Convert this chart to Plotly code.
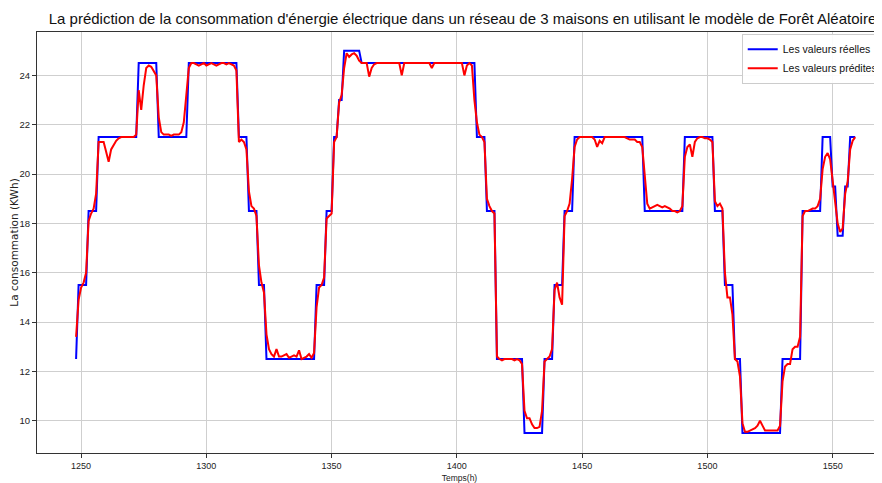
import plotly.graph_objects as go

hours = list(range(1248, 1560))

actual = [
    12.5, 15.5,
    15.5, 15.5, 15.5, 18.5, 18.5, 18.5, 18.5, 21.5, 21.5, 21.5,
    21.5, 21.5, 21.5, 21.5, 21.5, 21.5, 21.5, 21.5, 21.5, 21.5,
    21.5, 21.5, 21.5, 24.5, 24.5, 24.5, 24.5, 24.5, 24.5, 24.5,
    24.5, 21.5, 21.5, 21.5, 21.5, 21.5, 21.5, 21.5, 21.5, 21.5,
    21.5, 21.5, 21.5, 24.5, 24.5, 24.5, 24.5, 24.5, 24.5, 24.5,
    24.5, 24.5, 24.5, 24.5, 24.5, 24.5, 24.5, 24.5, 24.5, 24.5,
    24.5, 24.5, 24.5, 21.5, 21.5, 21.5, 21.5, 18.5, 18.5, 18.5,
    18.5, 15.5, 15.5, 15.5, 12.5, 12.5, 12.5, 12.5, 12.5, 12.5,
    12.5, 12.5, 12.5, 12.5, 12.5, 12.5, 12.5, 12.5, 12.5, 12.5,
    12.5, 12.5, 12.5, 12.5, 15.5, 15.5, 15.5, 15.5, 18.5, 18.5,
    18.5, 21.5, 21.5, 23.0, 23.0, 25.0, 25.0, 25.0, 25.0, 25.0,
    25.0, 25.0, 24.5, 24.5, 24.5, 24.5, 24.5, 24.5, 24.5, 24.5,
    24.5, 24.5, 24.5, 24.5, 24.5, 24.5, 24.5, 24.5, 24.5, 24.5,
    24.5, 24.5, 24.5, 24.5, 24.5, 24.5, 24.5, 24.5, 24.5, 24.5,
    24.5, 24.5, 24.5, 24.5, 24.5, 24.5, 24.5, 24.5, 24.5, 24.5,
    24.5, 24.5, 24.5, 24.5, 24.5, 24.5, 24.5, 24.5, 21.5, 21.5,
    21.5, 21.5, 18.5, 18.5, 18.5, 18.5, 12.5, 12.5, 12.5, 12.5,
    12.5, 12.5, 12.5, 12.5, 12.5, 12.5, 12.5, 9.5, 9.5, 9.5,
    9.5, 9.5, 9.5, 9.5, 9.5, 12.5, 12.5, 12.5, 12.5, 15.5,
    15.5, 15.5, 15.5, 18.5, 18.5, 18.5, 18.5, 21.5, 21.5, 21.5,
    21.5, 21.5, 21.5, 21.5, 21.5, 21.5, 21.5, 21.5, 21.5, 21.5,
    21.5, 21.5, 21.5, 21.5, 21.5, 21.5, 21.5, 21.5, 21.5, 21.5,
    21.5, 21.5, 21.5, 21.5, 21.5, 18.5, 18.5, 18.5, 18.5, 18.5,
    18.5, 18.5, 18.5, 18.5, 18.5, 18.5, 18.5, 18.5, 18.5, 18.5,
    18.5, 21.5, 21.5, 21.5, 21.5, 21.5, 21.5, 21.5, 21.5, 21.5,
    21.5, 21.5, 21.5, 18.5, 18.5, 18.5, 18.5, 15.5, 15.5, 15.5,
    15.5, 12.5, 12.5, 12.5, 9.5, 9.5, 9.5, 9.5, 9.5, 9.5,
    9.5, 9.5, 9.5, 9.5, 9.5, 9.5, 9.5, 9.5, 9.5, 9.5,
    12.5, 12.5, 12.5, 12.5, 12.5, 12.5, 12.5, 12.5, 18.5, 18.5,
    18.5, 18.5, 18.5, 18.5, 18.5, 18.5, 21.5, 21.5, 21.5, 21.5,
    19.5, 19.5, 17.5, 17.5, 17.5, 19.5, 19.5, 21.5, 21.5, 21.5,
]

predicted = [
    13.4, 14.9,
    15.4, 15.6, 16.0, 18.1, 18.4, 18.6, 19.2, 21.3, 21.3, 21.3,
    20.9, 20.5, 21.0, 21.2, 21.35, 21.45, 21.5, 21.5, 21.5, 21.5,
    21.5, 21.5, 21.6, 23.4, 22.6, 23.6, 24.3, 24.4, 24.35, 24.2,
    24.0, 22.3, 21.7, 21.6, 21.6, 21.6, 21.55, 21.6, 21.6, 21.6,
    21.7, 22.1, 23.2, 24.3, 24.5, 24.5, 24.45, 24.4, 24.45, 24.5,
    24.4, 24.45, 24.5, 24.45, 24.4, 24.45, 24.5, 24.5, 24.45, 24.5,
    24.45, 24.4, 24.2, 21.3, 21.4, 21.3, 21.0, 19.3, 18.7, 18.6,
    18.3, 16.3, 15.6, 15.2, 13.5, 12.9, 12.7, 12.6, 12.9, 12.6,
    12.6, 12.65, 12.7, 12.55, 12.6, 12.65, 12.6, 12.85, 12.5, 12.55,
    12.6, 12.7, 12.55, 12.75, 14.6, 15.4, 15.5, 15.8, 18.2, 18.3,
    18.4, 21.3, 21.5, 22.9, 23.2, 24.3, 24.9, 24.75, 24.85, 24.9,
    24.8, 24.6, 24.5, 24.5, 24.5, 23.95, 24.3, 24.45, 24.5, 24.5,
    24.5, 24.5, 24.5, 24.5, 24.5, 24.5, 24.5, 24.5, 24.0, 24.5,
    24.5, 24.5, 24.5, 24.5, 24.5, 24.5, 24.5, 24.5, 24.5, 24.5,
    24.3, 24.5, 24.5, 24.5, 24.5, 24.5, 24.5, 24.5, 24.5, 24.5,
    24.5, 24.5, 24.5, 24.0, 24.4, 24.5, 24.4, 23.0, 22.1, 21.6,
    21.5, 21.3, 19.0, 18.7, 18.5, 18.4, 12.6, 12.5, 12.45, 12.5,
    12.5, 12.5, 12.5, 12.45, 12.5, 12.45, 12.3, 10.4, 10.1, 10.1,
    9.85, 9.7, 9.7, 9.75, 10.4, 12.4, 12.5, 12.6, 12.9, 15.3,
    15.6, 15.0, 14.7, 18.3, 18.5, 18.8, 19.8, 21.1, 21.4, 21.5,
    21.5, 21.5, 21.5, 21.5, 21.5, 21.4, 21.1, 21.35, 21.25, 21.5,
    21.5, 21.5, 21.5, 21.5, 21.5, 21.5, 21.5, 21.5, 21.45, 21.4,
    21.4, 21.4, 21.3, 21.3, 21.1, 19.8, 18.8, 18.6, 18.65, 18.7,
    18.75, 18.7, 18.65, 18.7, 18.65, 18.6, 18.5, 18.5, 18.45, 18.5,
    18.7, 20.7, 21.1, 21.2, 20.7, 21.3, 21.45, 21.5, 21.5, 21.45,
    21.45, 21.4, 21.3, 18.9, 18.7, 18.8, 18.6, 16.0, 15.0, 15.0,
    14.3, 12.5, 12.4, 11.8, 9.9, 9.55, 9.55, 9.6, 9.65, 9.7,
    9.8, 10.0, 9.8, 9.6, 9.6, 9.6, 9.6, 9.6, 9.6, 9.8,
    11.6, 12.2, 12.3, 12.3, 12.9, 13.0, 13.0, 13.4, 18.3, 18.5,
    18.5, 18.55, 18.6, 18.6, 18.7, 19.0, 20.2, 20.7, 20.85, 20.6,
    19.7, 19.0, 18.0, 17.65, 17.8, 19.2, 19.7, 21.0, 21.35, 21.5,
]

x_ticks = [1250, 1300, 1350, 1400, 1450, 1500, 1550]
y_ticks = [10, 12, 14, 16, 18, 20, 22, 24]

title_text = ("La prédiction de la consommation d'énergie électrique dans un réseau "
              "de 3 maisons en utilisant le modèle de Forêt Aléatoire")

SANS = "Liberation Sans, Arial, sans-serif"

fig = go.Figure()
fig.add_trace(go.Scatter(x=hours, y=actual, mode="lines", name="Les valeurs réelles",
                         line=dict(color="#0000ff", width=2)))
fig.add_trace(go.Scatter(x=hours, y=predicted, mode="lines", name="Les valeurs prédites",
                         line=dict(color="#ff0000", width=2)))

# The page body adds an 8px offset, so the figure is sized/margined to compensate.
fig.update_layout(
    width=874, height=475,
    margin=dict(l=29, r=0, t=24, b=30, autoexpand=False),
    paper_bgcolor="white", plot_bgcolor="white",
    title=dict(text=title_text, x=0.52, xref="container", xanchor="center",
               y=0.977, yref="container", yanchor="middle",
               font=dict(family=SANS, size=15, color="#111")),
    legend=dict(x=0.834, y=0.996, xanchor="left", yanchor="top",
                bgcolor="rgba(255,255,255,0.9)", bordercolor="#cccccc", borderwidth=1,
                font=dict(family=SANS, size=10.5, color="#111"), tracegroupgap=2),
    showlegend=True,
)
fig.update_xaxes(range=[1232.4, 1569.7], tickvals=x_ticks, ticktext=[str(v) for v in x_ticks],
                 showgrid=True, gridcolor="#cfcfcf", gridwidth=1,
                 showline=True, linecolor="#333", linewidth=1, mirror=True,
                 ticks="outside", ticklen=4, tickcolor="#333",
                 tickfont=dict(family=SANS, size=9, color="#222"),
                 title=dict(text="Temps(h)", font=dict(family=SANS, size=8.5, color="#222"), standoff=5),
                 zeroline=False)
fig.update_yaxes(range=[8.69, 25.76], tickvals=y_ticks, ticktext=[str(v) for v in y_ticks],
                 showgrid=True, gridcolor="#cfcfcf", gridwidth=1,
                 showline=True, linecolor="#333", linewidth=1, mirror=False,
                 ticks="outside", ticklen=4, tickcolor="#333",
                 tickfont=dict(family=SANS, size=9.5, color="#222"),
                 title=dict(text="La consommation (KWh)", font=dict(family="DejaVu Sans", size=10.5, color="#222"), standoff=8),
                 zeroline=False)

fig.write_html("out.html")
